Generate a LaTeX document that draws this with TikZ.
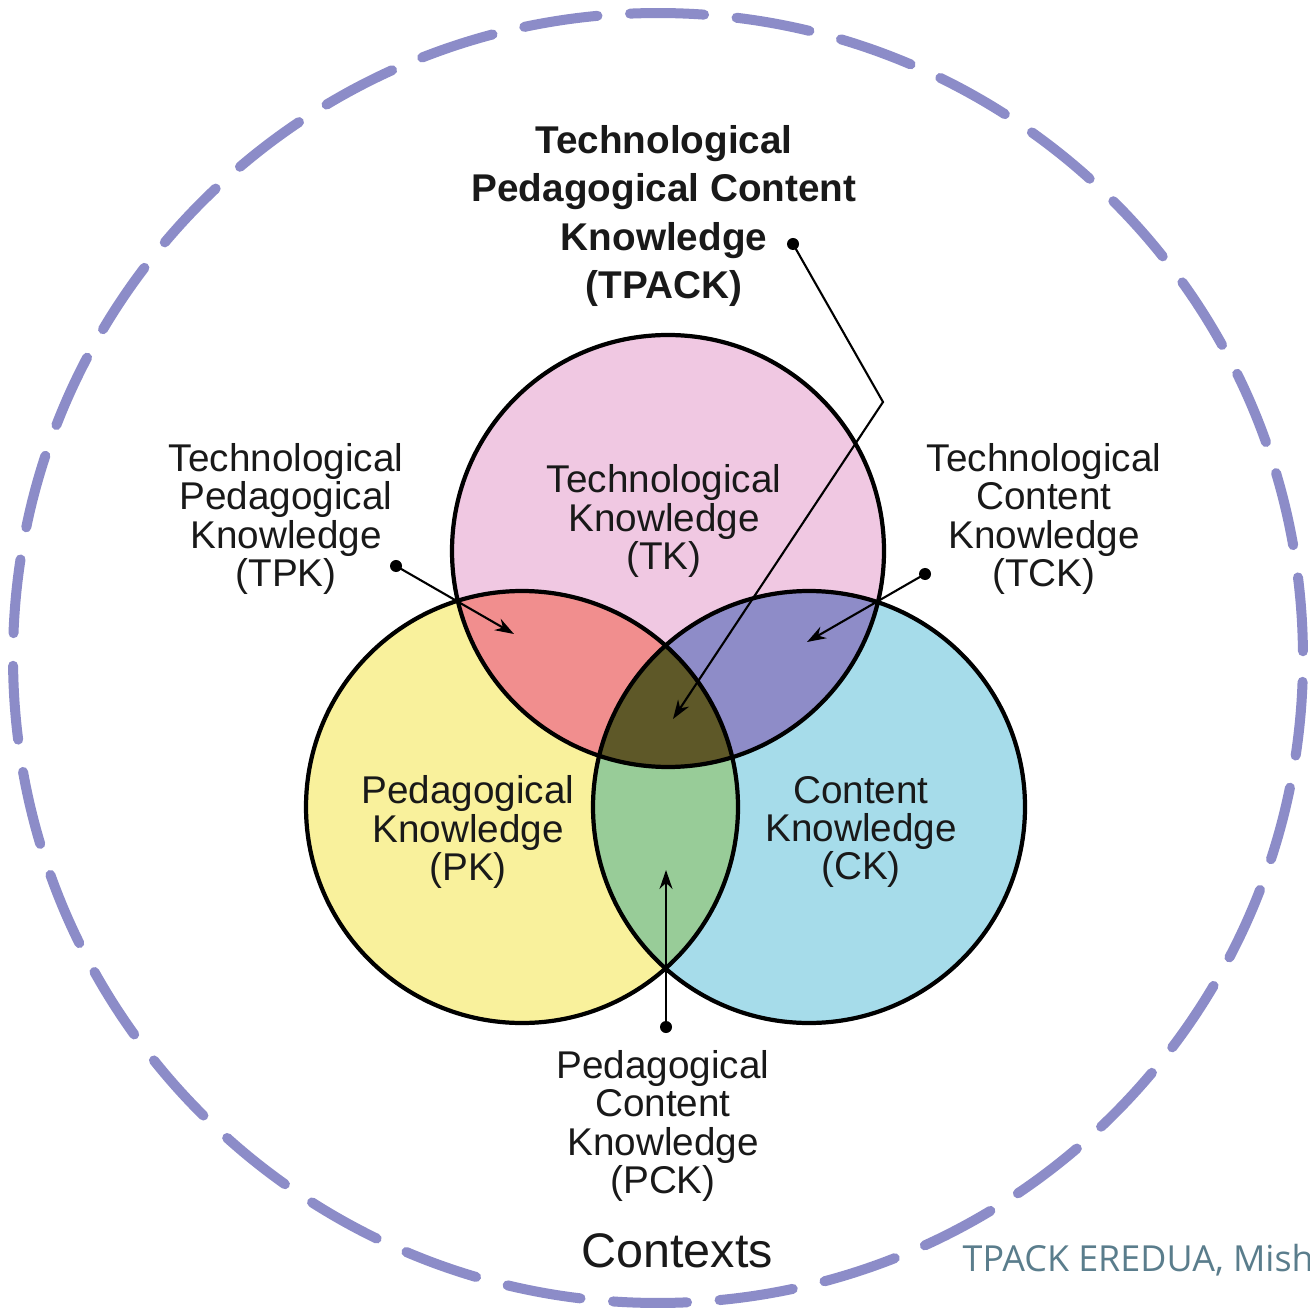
\documentclass[tikz,border=0pt]{standalone}
\usepackage{fontspec}
\setmainfont{Liberation Sans}
\newfontfamily\creditfont{Open Sans}
\usetikzlibrary{arrows.meta}
\definecolor{tkcol}{RGB}{240,200,226}
\definecolor{pkcol}{RGB}{249,241,156}
\definecolor{ckcol}{RGB}{166,220,234}
\definecolor{tpkcol}{RGB}{241,142,142}
\definecolor{tckcol}{RGB}{142,140,200}
\definecolor{pckcol}{RGB}{152,204,152}
\definecolor{tpackcol}{RGB}{94,88,40}
\definecolor{ctxcol}{RGB}{140,140,200}
\definecolor{creditcol}{RGB}{90,125,140}
\definecolor{txtcol}{RGB}{25,25,25}
\begin{document}
\begin{tikzpicture}[x=0.01cm,y=-0.01cm,
  lbl/.style={align=center,inner sep=0pt,text=txtcol,font=\fontsize{11}{10.9}\selectfont},
  titlelbl/.style={align=center,inner sep=0pt,text=txtcol,font=\bfseries\fontsize{11}{13.7}\selectfont},
  outline/.style={draw=black,line width=1.2pt},
  dotnode/.style={circle,fill=black,inner sep=0pt,minimum size=0.12cm},
  pointer/.style={draw=black,line width=0.6pt,-{Stealth[length=0.19cm,width=0.13cm]}}]
\useasboundingbox (0,0) rectangle (1309,1310);
\fill[white] (0,0) rectangle (1309,1310);
% context circle
\coordinate (ctx) at (658,658);
\draw[ctxcol,line width=0.1cm,line cap=round,dash pattern=on 0.74cm off 0.3265cm]
  (ctx) ++(-0.6:645) arc[start angle=-0.6,end angle=-360.6,radius=645];
% circle centres
\coordinate (tk) at (668,551);
\coordinate (pk) at (522,807);
\coordinate (ck) at (809,807);
\def\R{216}
\fill[tkcol] (tk) circle[radius=\R];
\fill[pkcol] (pk) circle[radius=\R];
\fill[ckcol] (ck) circle[radius=\R];
\begin{scope}
  \clip (tk) circle[radius=\R];
  \fill[tpkcol] (pk) circle[radius=\R];
  \fill[tckcol] (ck) circle[radius=\R];
\end{scope}
\begin{scope}
  \clip (pk) circle[radius=\R];
  \fill[pckcol] (ck) circle[radius=\R];
  \clip (ck) circle[radius=\R];
  \fill[tpackcol] (tk) circle[radius=\R];
\end{scope}
\draw[outline] (tk) circle[radius=\R];
\draw[outline] (pk) circle[radius=\R];
\draw[outline] (ck) circle[radius=\R];
% labels
\node[titlelbl] (tpacklbl) at (664,216) {Technological\\Pedagogical Content\\Knowledge\\(TPACK)};
\node[lbl] (tklbl) at (664,521) {Technological\\Knowledge\\(TK)};
\node[lbl] (pklbl) at (468,832) {Pedagogical\\Knowledge\\(PK)};
\node[lbl] (cklbl) at (861,832) {Content\\Knowledge\\(CK)};
\node[lbl] (tpklbl) at (286,519) {Technological\\Pedagogical\\Knowledge\\(TPK)};
\node[lbl] (tcklbl) at (1044,519) {Technological\\Content\\Knowledge\\(TCK)};
\node[lbl] (pcklbl) at (663,1126) {Pedagogical\\Content\\Knowledge\\(PCK)};
\node[inner sep=0pt,text=txtcol,font=\fontsize{13.8}{15}\selectfont] (ctxlbl) at (677,1251) {Contexts};
\node[anchor=base west,inner sep=0pt,text=creditcol,font=\creditfont\fontsize{10.2}{11}\selectfont] (credit) at (962,1271) {TPACK EREDUA, Mish};
% pointers
\node[dotnode] (tpkdot) at (396,566) {};
\coordinate (tpktip) at (514,634);
\draw[pointer] (tpkdot.center) -- (tpktip);
\node[dotnode] (tckdot) at (925,574) {};
\coordinate (tcktip) at (807,642);
\draw[pointer] (tckdot.center) -- (tcktip);
\node[dotnode] (tpackdot) at (793,244) {};
\coordinate (tpackbend) at (883,402);
\coordinate (tpacktip) at (673,719);
\draw[pointer] (tpackdot.center) -- (tpackbend) -- (tpacktip);
\node[dotnode] (pckdot) at (666,1027) {};
\coordinate (pcktip) at (666,870);
\draw[pointer] (pckdot.center) -- (pcktip);
\end{tikzpicture}
\end{document}
